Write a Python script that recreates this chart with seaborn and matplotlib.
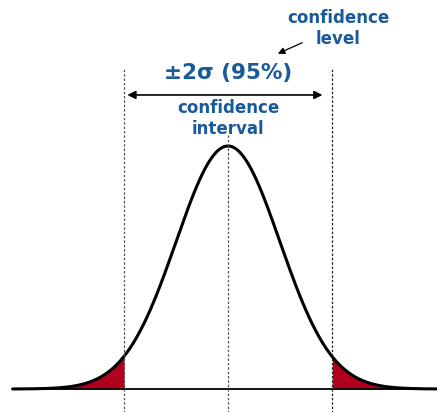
import numpy as np
import pandas as pd
import seaborn as sns
import matplotlib.pyplot as plt

# normal curve, standard units
mean = 0.0
sigma = 1.0
x_range = [-4.15, 4.05]
bound = 2.0  # +/- 2 sigma

blue = "#1b5a98"
red = "#b0001e"

xs = np.linspace(x_range[0], x_range[1], 600)
curve = pd.DataFrame({"x": xs, "y": np.exp(-0.5 * ((xs - mean) / sigma) ** 2)})

sns.set_style("white")
fig = plt.figure(figsize=(4.37, 4.12), dpi=100)
ax = fig.add_axes([0, 0, 1, 1])

# tails
left = curve[curve.x <= -bound]
right = curve[curve.x >= bound]
ax.fill_between(left.x, 0, left.y, color=red, lw=0)
ax.fill_between(right.x, 0, right.y, color=red, lw=0)

ax.plot(x_range, [0, 0], color="black", lw=1.3)
sns.lineplot(data=curve, x="x", y="y", color="black", lw=2.2, ax=ax)

# dashed guides
dash = (0, (2, 1.5))
ax.plot([-bound, -bound], [-0.2, 1.32], ls=dash, color="#555555", lw=0.9)
ax.plot([bound, bound], [-0.2, 1.32], ls=dash, color="#222222", lw=0.9)
ax.plot([0, 0], [-0.2, 1.045], ls=dash, color="#555555", lw=0.9)

ax.annotate("", xy=(-1.94, 1.21), xytext=(1.82, 1.21),
            arrowprops=dict(arrowstyle="<|-|>", color="black", lw=1.2,
                            mutation_scale=12, shrinkA=0, shrinkB=0))
ax.text(0, 1.30, "±2σ (95%)", color=blue, fontsize=15.5, fontweight="bold",
        ha="center", va="center")
ax.text(0, 1.155, "confidence", color=blue, fontsize=12, fontweight="bold",
        ha="center", va="center")
ax.text(0, 1.07, "interval", color=blue, fontsize=12, fontweight="bold",
        ha="center", va="center")
ax.text(2.12, 1.525, "confidence", color=blue, fontsize=12, fontweight="bold",
        ha="center", va="center")
ax.text(2.12, 1.44, "level", color=blue, fontsize=12, fontweight="bold",
        ha="center", va="center")
ax.annotate("", xy=(0.96, 1.38), xytext=(1.43, 1.425),
            arrowprops=dict(arrowstyle="-|>", color="black", lw=0.9,
                            mutation_scale=10, shrinkA=0, shrinkB=0))

ax.set_xlim(-228 / 51.9, 209 / 51.9)
ax.set_ylim(-23 / 243, 389 / 243)
ax.axis("off")

fig.savefig("out.png", dpi=100)
